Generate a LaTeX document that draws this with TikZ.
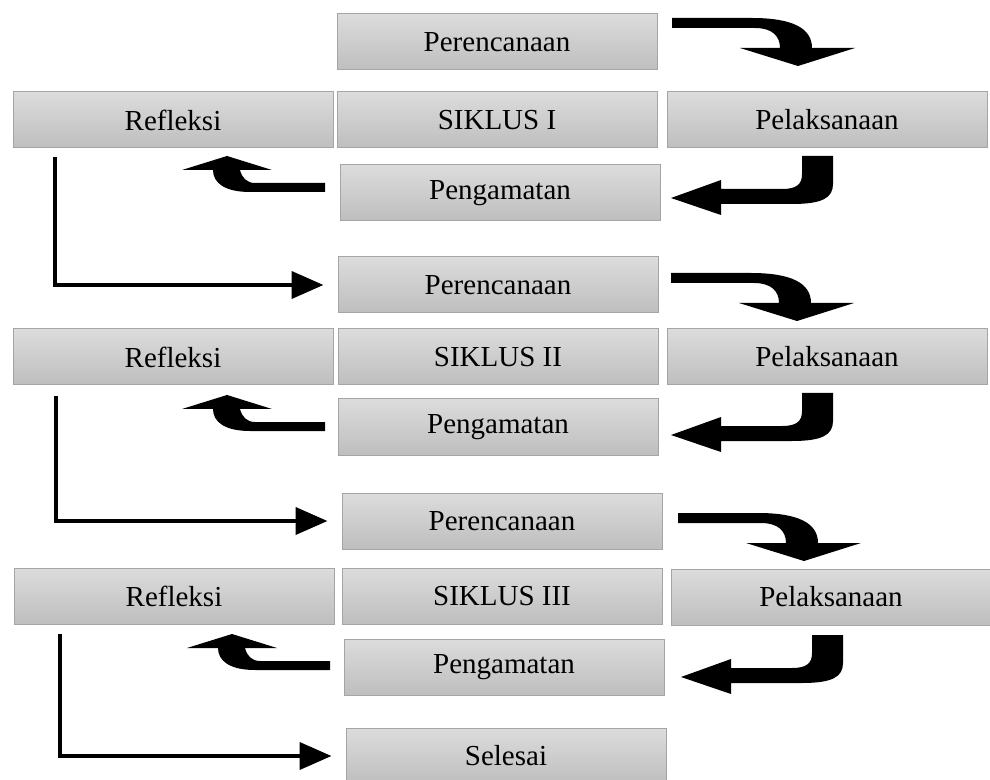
\documentclass[tikz,border=0pt]{standalone}
\usepackage{fontspec}
\setmainfont{Liberation Serif}
\usetikzlibrary{arrows.meta,calc}
\definecolor{boxtop}{RGB}{220,220,220}
\definecolor{boxbot}{RGB}{190,190,190}
\definecolor{boxline}{RGB}{165,165,165}
\tikzset{
  box/.style={draw=boxline, line width=0.5pt, top color=boxtop, bottom color=boxbot,
    minimum width=160pt, minimum height=28pt, inner sep=0pt,
    font=\fontsize{14.5}{17}\selectfont},
  flow/.style={line width=2pt, -{Triangle[length=16pt,width=13.5pt]}, shorten >=7pt},
  bendright/.pic={
    \fill (0,0) -- (80,0) .. controls (120,0) and (140,10) .. (140,30) -- (183,30)
      -- (126,48) -- (68,30) -- (108,30) .. controls (108,18) and (100,10) .. (83,10)
      -- (0,10) -- cycle;},
  benddown/.pic={
    \fill (0,0) -- (31,0) -- (31,28) .. controls (31,42) and (20,48) .. (-10,48)
      -- (-81,48) -- (-81,59) -- (-131,42) -- (-81,24) -- (-81,33) -- (-20,33)
      .. controls (-5,33) and (0,28) .. (0,18) -- cycle;},
  bendup/.pic={
    \fill (0,0) -- (0,9) -- (-75,9) .. controls (-100,9) and (-112,0) .. (-112,-13)
      -- (-143,-13) -- (-98,-27) -- (-53,-13) -- (-85,-13)
      .. controls (-83,-5) and (-78,0) .. (-70,0) -- cycle;}
}
\begin{document}
\begin{tikzpicture}[x=0.5pt,y=-0.5pt]
  \useasboundingbox (0,0) rectangle (990,780);

  % siklus I
  \node[box] (plan1) at (497,42) {Perencanaan};
  \node[box] (refl1) at (173,120) {Refleksi};
  \node[box] (sik1) at (497,120) {SIKLUS I};
  \node[box] (pel1) at (827,120) {Pelaksanaan};
  \node[box] (obs1) at (500,193) {Pengamatan};
  \pic at (672,18) {bendright};
  \pic at (802,156) {benddown};
  \pic at (325,183) {bendup};

  % siklus II
  \node[box] (plan2) at (498,285) {Perencanaan};
  \node[box] (refl2) at (173,357) {Refleksi};
  \node[box] (sik2) at (498,357) {SIKLUS II};
  \node[box] (pel2) at (827,357) {Pelaksanaan};
  \node[box] (obs2) at (498,427) {Pengamatan};
  \pic at (671,273) {bendright};
  \pic at (802,393) {benddown};
  \pic at (325,422) {bendup};

  % siklus III
  \node[box] (plan3) at (502,521) {Perencanaan};
  \node[box] (refl3) at (174,596) {Refleksi};
  \node[box] (sik3) at (502,596) {SIKLUS III};
  \node[box] (pel3) at (831,597) {Pelaksanaan};
  \node[box] (obs3) at (504,667) {Pengamatan};
  \pic at (678,513) {bendright};
  \pic at (812,635) {benddown};
  \pic at (330,661) {bendup};

  \node[box] (sel) at (506,756) {Selesai};

  \draw[flow] ($(refl1.south west)+(42,9)$) |- (plan2.west);
  \draw[flow] ($(refl2.south west)+(43,11)$) |- (plan3.west);
  \draw[flow] ($(refl3.south west)+(46,9)$) |- (sel.west);
\end{tikzpicture}
\end{document}
